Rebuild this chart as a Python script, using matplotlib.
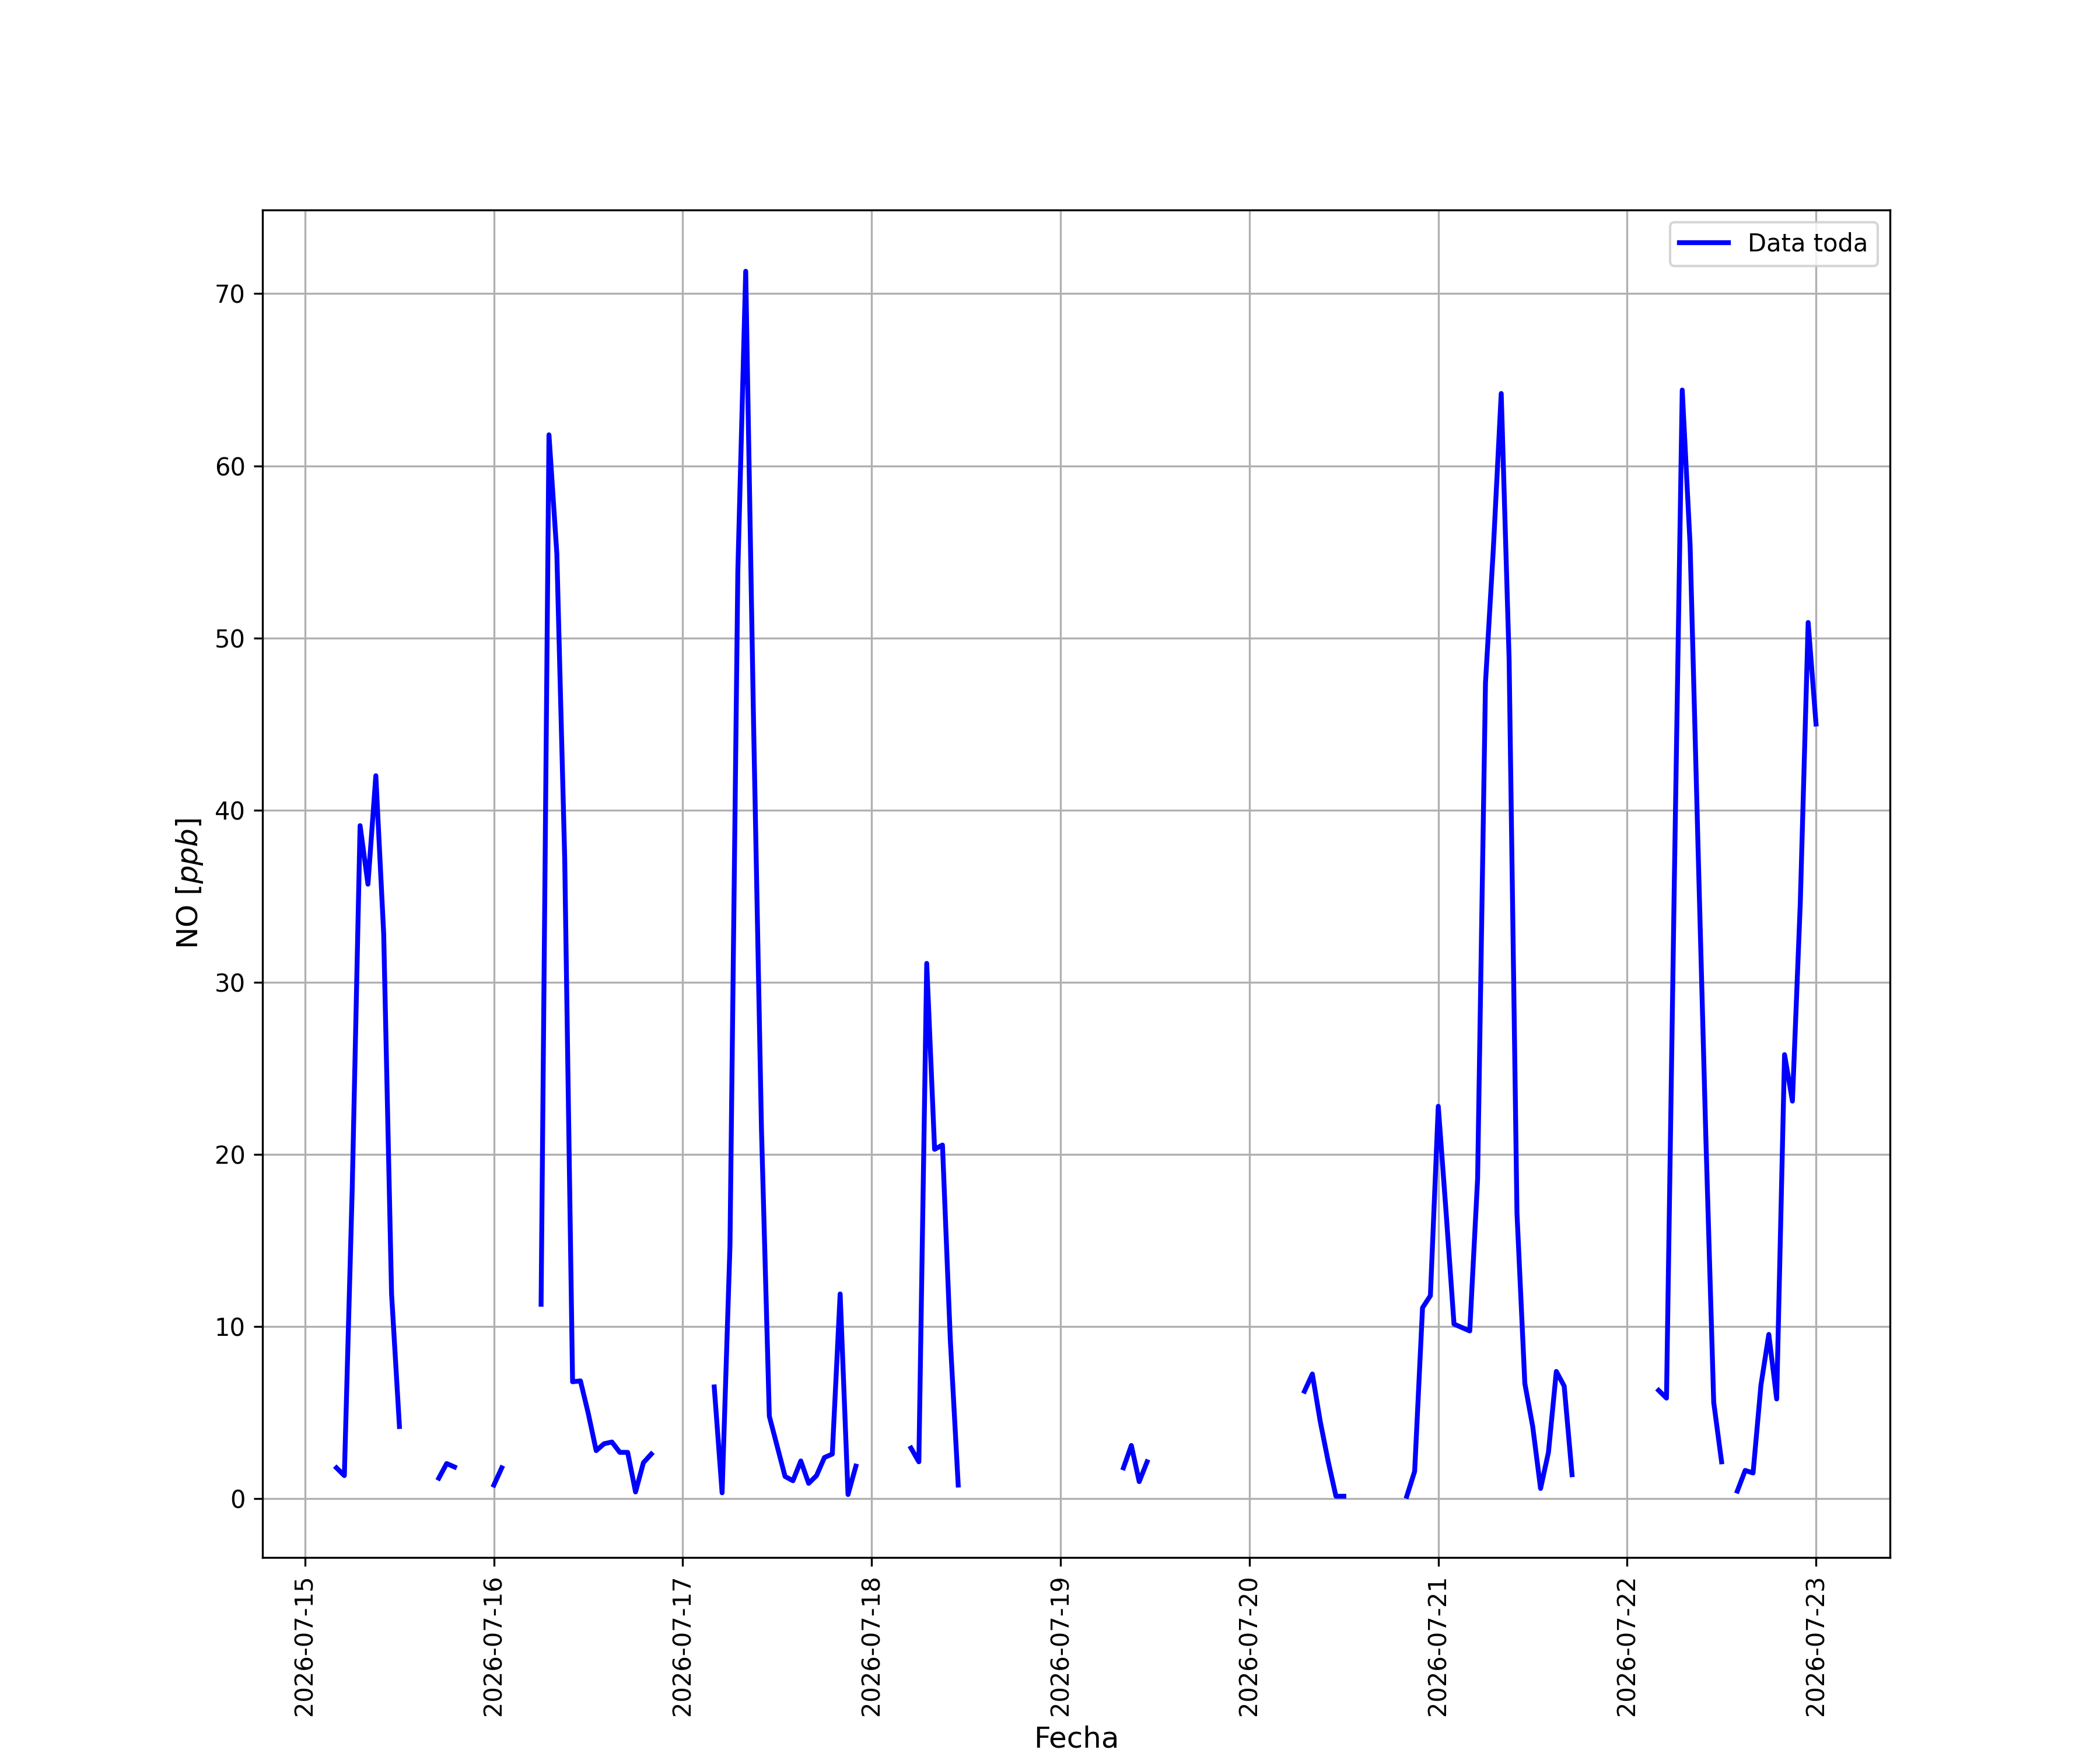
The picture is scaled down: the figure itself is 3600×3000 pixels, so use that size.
import numpy as np
import pandas as pd
import matplotlib
matplotlib.use("Agg")
import matplotlib.pyplot as plt
import matplotlib.dates as mdates

nan = np.nan

start_time = "2026-07-15 04:00"
series_label = "Data toda"
x_label = "Fecha"
y_label = "NO [$ppb$]"

# Hourly NO values [ppb] from 2026-07-15 04:00 to 2026-07-23 00:00 (NaN = missing)
no_values = [
    1.8, 1.35, 18.0, 39.1, 35.7, 42.0, 32.8, 11.9, 4.2,            # 04-12 (15th)
    nan, nan, nan, nan,                                           # 13-16
    1.2, 2.05, 1.85,                                              # 17-19
    nan, nan, nan, nan,                                           # 20-23
    0.8, 1.8,                                                     # 16th 00-01
    nan, nan, nan, nan,                                           # 02-05
    11.3, 61.8, 54.9, 37.2, 6.8, 6.85, 4.95, 2.8, 3.2, 3.3,       # 06-15
    2.7, 2.7, 0.4, 2.1, 2.6,                                      # 16-20
    nan, nan, nan, nan, nan, nan, nan,                            # 21-03
    6.5, 0.35, 14.7, 53.9, 71.3, 45.0, 21.5, 4.8, 3.05, 1.3,      # 17th 04-13
    1.05, 2.2, 0.9, 1.35, 2.4, 2.6, 11.9, 0.25, 1.9,              # 14-22
    nan, nan, nan, nan, nan, nan,                                 # 23-04
    2.95, 2.15, 31.1, 20.3, 20.55, 9.2, 0.8,                      # 18th 05-11
    nan, nan, nan, nan, nan, nan, nan, nan, nan, nan,             # 12-21
    nan, nan, nan, nan, nan, nan, nan, nan, nan, nan,             # 22-07
    1.8, 3.1, 1.0, 2.15,                                          # 19th 08-11
    nan, nan, nan, nan, nan, nan, nan, nan, nan, nan,             # 12-21
    nan, nan, nan, nan, nan, nan, nan, nan, nan,                  # 22-06
    6.25, 7.25, 4.5, 2.2, 0.15, 0.15,                             # 20th 07-12
    nan, nan, nan, nan, nan, nan, nan,                            # 13-19
    0.15, 1.6, 11.1, 11.8,                                        # 20-23
    22.8, 16.6, 10.15, 9.95, 9.75, 18.6, 47.4, 55.2, 64.2, 48.8,  # 21st 00-09
    16.6, 6.7, 4.2, 0.6, 2.7, 7.4, 6.55, 1.4,                     # 10-17
    nan, nan, nan, nan, nan, nan, nan, nan, nan, nan,             # 18-03
    6.3, 5.85, 36.0, 64.4, 55.4, 38.0, 21.0, 5.6, 2.15,           # 22nd 04-12
    nan,                                                          # 13
    0.45, 1.65, 1.5, 6.6, 9.55, 5.8, 25.8, 23.1, 34.6, 50.9,      # 14-23
    45.0,                                                         # 23rd 00
]

times = pd.date_range(start=start_time, periods=len(no_values), freq="h")

fig, ax = plt.subplots(figsize=(12, 10), dpi=300)
ax.plot(times, no_values, color="blue", linewidth=2, label=series_label)

ax.xaxis.set_major_locator(mdates.DayLocator())
ax.xaxis.set_major_formatter(mdates.DateFormatter("%Y-%m-%d"))
plt.setp(ax.get_xticklabels(), rotation=90)

ax.set_xlabel(x_label, fontsize=12)
ax.set_ylabel(y_label, fontsize=12)
ax.grid(True)
ax.legend(loc="upper right")

fig.savefig("out.png", dpi=300)
